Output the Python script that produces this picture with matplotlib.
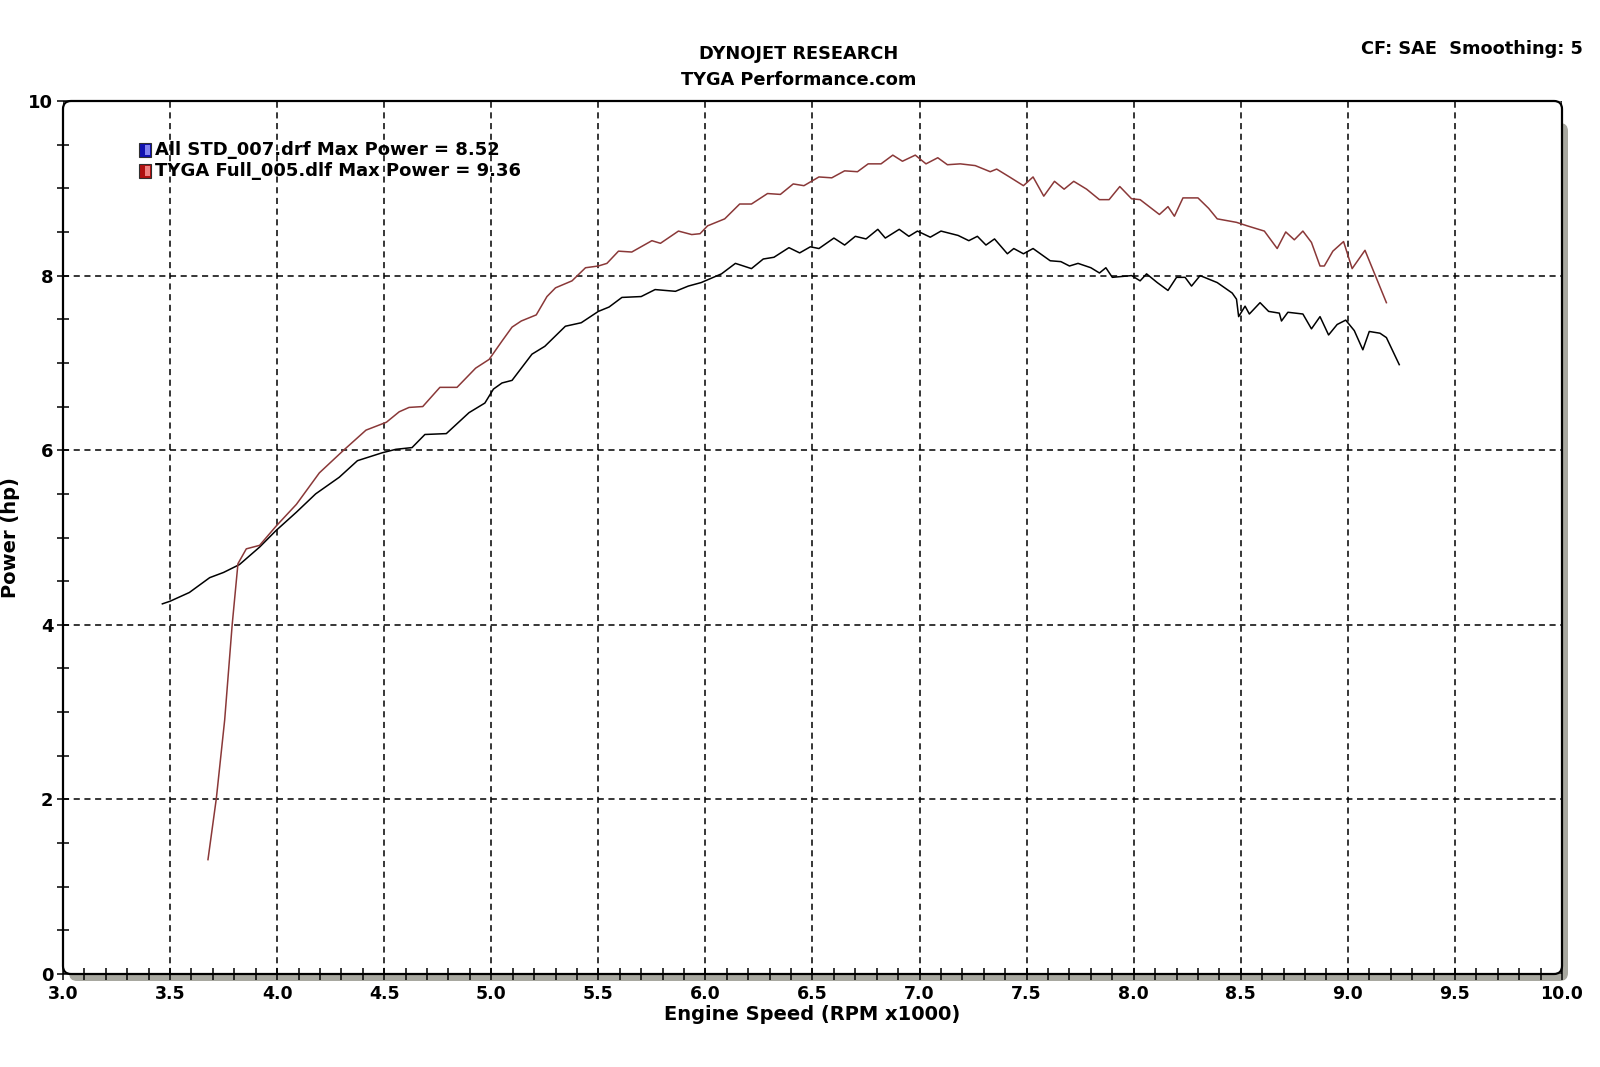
import numpy as np
import matplotlib
matplotlib.use("Agg")
import matplotlib.pyplot as plt
from matplotlib.patches import FancyBboxPatch, Rectangle

# dyno run, stock (black)
std_rpm = [3.464, 3.50, 3.59, 3.685, 3.75, 3.824, 3.918, 3.995, 4.09, 4.18, 4.29, 4.375,
           4.49, 4.554, 4.63, 4.69, 4.79, 4.896, 4.97, 5.01, 5.05, 5.097, 5.19, 5.25,
           5.346, 5.42, 5.50, 5.55, 5.61, 5.70, 5.765, 5.86, 5.92, 5.98, 6.075, 6.14,
           6.215, 6.27, 6.32, 6.39, 6.44, 6.49, 6.53, 6.60, 6.65, 6.70, 6.75, 6.805,
           6.84, 6.905, 6.95, 6.99, 7.05, 7.10, 7.18, 7.23, 7.27, 7.31, 7.35, 7.41,
           7.44, 7.485, 7.53, 7.61, 7.66, 7.70, 7.74, 7.80, 7.84, 7.87, 7.90, 7.99,
           8.03, 8.06, 8.11, 8.16, 8.20, 8.24, 8.27, 8.31, 8.39, 8.46, 8.48, 8.49,
           8.52, 8.54, 8.59, 8.63, 8.68, 8.69, 8.72, 8.79, 8.83, 8.87, 8.91, 8.95,
           8.99, 9.03, 9.07, 9.10, 9.15, 9.18, 9.24]
std_hp = [4.24, 4.27, 4.37, 4.54, 4.60, 4.69, 4.89, 5.08, 5.29, 5.50, 5.69, 5.88,
          5.97, 6.01, 6.03, 6.18, 6.19, 6.43, 6.54, 6.70, 6.77, 6.80, 7.10, 7.19,
          7.42, 7.46, 7.59, 7.64, 7.75, 7.76, 7.84, 7.82, 7.88, 7.92, 8.02, 8.14,
          8.08, 8.19, 8.21, 8.32, 8.26, 8.33, 8.31, 8.43, 8.35, 8.45, 8.42, 8.53,
          8.43, 8.53, 8.45, 8.51, 8.44, 8.51, 8.46, 8.40, 8.45, 8.35, 8.42, 8.25,
          8.31, 8.25, 8.31, 8.17, 8.16, 8.11, 8.14, 8.09, 8.03, 8.09, 7.98, 8.00,
          7.94, 8.02, 7.92, 7.83, 7.98, 7.98, 7.88, 8.00, 7.92, 7.80, 7.73, 7.53,
          7.65, 7.56, 7.69, 7.59, 7.57, 7.48, 7.58, 7.56, 7.39, 7.53, 7.32, 7.44,
          7.49, 7.37, 7.15, 7.36, 7.34, 7.29, 6.98]

# TYGA full exhaust (red)
tyga_rpm = [3.677, 3.716, 3.755, 3.79, 3.817, 3.856, 3.918, 3.995, 4.09, 4.197, 4.306,
            4.415, 4.51, 4.57, 4.616, 4.68, 4.76, 4.84, 4.927, 4.99, 5.05, 5.097, 5.14,
            5.21, 5.26, 5.30, 5.377, 5.44, 5.50, 5.54, 5.594, 5.656, 5.75, 5.79, 5.874,
            5.936, 5.975, 6.01, 6.09, 6.16, 6.215, 6.29, 6.35, 6.41, 6.46, 6.53, 6.59,
            6.65, 6.71, 6.76, 6.82, 6.875, 6.92, 6.98, 7.03, 7.085, 7.13, 7.19, 7.26,
            7.33, 7.36, 7.42, 7.485, 7.53, 7.58, 7.63, 7.675, 7.72, 7.78, 7.84, 7.885,
            7.935, 7.99, 8.03, 8.12, 8.16, 8.19, 8.23, 8.30, 8.35, 8.39, 8.48, 8.53,
            8.61, 8.67, 8.71, 8.75, 8.79, 8.83, 8.87, 8.89, 8.93, 8.98, 9.02, 9.08,
            9.12, 9.18]
tyga_hp = [1.31, 2.01, 2.91, 4.00, 4.70, 4.87, 4.91, 5.13, 5.38, 5.74, 5.99,
           6.23, 6.32, 6.44, 6.49, 6.50, 6.72, 6.72, 6.94, 7.04, 7.25, 7.41, 7.48,
           7.55, 7.76, 7.86, 7.94, 8.09, 8.11, 8.14, 8.28, 8.27, 8.40, 8.37, 8.51,
           8.47, 8.48, 8.57, 8.65, 8.82, 8.82, 8.94, 8.93, 9.05, 9.03, 9.13, 9.12,
           9.20, 9.19, 9.28, 9.28, 9.38, 9.31, 9.38, 9.28, 9.35, 9.27, 9.28, 9.26,
           9.19, 9.22, 9.13, 9.03, 9.13, 8.91, 9.08, 8.99, 9.08, 8.99, 8.87, 8.87,
           9.02, 8.88, 8.87, 8.70, 8.79, 8.68, 8.89, 8.89, 8.77, 8.65, 8.61, 8.57,
           8.51, 8.31, 8.50, 8.41, 8.51, 8.38, 8.11, 8.11, 8.28, 8.39, 8.08, 8.29,
           8.05, 7.69]

legend_txt = ["All STD_007.drf Max Power = 8.52", "TYGA Full_005.dlf Max Power = 9.36"]
xticks = [3.0, 3.5, 4.0, 4.5, 5.0, 5.5, 6.0, 6.5, 7.0, 7.5, 8.0, 8.5, 9.0, 9.5, 10.0]
yticks = [0, 2, 4, 6, 8, 10]

W, H = 16.0, 10.67
fig = plt.figure(figsize=(W, H), dpi=100)
L, R, B, T = 0.63, 15.62, 0.93, 9.66   # axes box in inches
ax = fig.add_axes([L / W, B / H, (R - L) / W, (T - B) / H])
ax.patch.set_visible(False)
for s in ax.spines.values():
    s.set_visible(False)

# frame with rounded corners + grey drop shadow
shadow = FancyBboxPatch((L + 0.06, B - 0.07), R - L, T - B - 0.15,
                        boxstyle="round,pad=0,rounding_size=0.08",
                        transform=fig.dpi_scale_trans, fc="#a8a8a0", ec="none", zorder=-2)
frame = FancyBboxPatch((L, B), R - L, T - B, boxstyle="round,pad=0,rounding_size=0.08",
                       transform=fig.dpi_scale_trans, fc="white", ec="black", lw=1.6, zorder=-1)
fig.patches.extend([shadow, frame])

ax.plot(std_rpm, std_hp, color="black", lw=1.1, zorder=3)
ax.plot(tyga_rpm, tyga_hp, color="#8a3838", lw=1.1, zorder=3)

ax.set_xlim(3, 10)
ax.set_ylim(0, 10)
ax.set_xticks(xticks)
ax.set_xticks(np.arange(3.0, 10.01, 0.1), minor=True)
ax.set_xticklabels(["%.1f" % v for v in xticks])
ax.set_yticks(yticks)
ax.set_yticks(np.arange(0, 10.01, 0.5), minor=True)
ax.tick_params(axis="x", which="both", direction="inout", length=8, width=1.1, pad=4,
               labelsize=12.5)
ax.tick_params(axis="y", which="both", direction="inout", length=8, width=1.1, pad=3,
               labelsize=13)
for lab in ax.get_xticklabels() + ax.get_yticklabels():
    lab.set_fontweight("bold")
ax.grid(True, which="major", color="black", ls=(0, (4, 3)), lw=1.1)

ax.set_xlabel("Engine Speed (RPM x1000)", fontsize=14, fontweight="bold", labelpad=1)
ax.set_ylabel("Power (hp)", fontsize=14, fontweight="bold", labelpad=6)

# legend
cols = [("#1010b0", "#8080f0"), ("#b01010", "#f08080")]
for i, (txt, (c1, c2)) in enumerate(zip(legend_txt, cols)):
    y = 0.944 - i * 0.024
    ax.add_patch(Rectangle((0.0505, y - 0.008), 0.0085, 0.016, transform=ax.transAxes,
                           fc=c1, ec="#303030", lw=0.8, zorder=4))
    ax.add_patch(Rectangle((0.0545, y - 0.006), 0.0035, 0.012, transform=ax.transAxes,
                           fc=c2, ec="none", zorder=5))
    ax.text(0.0615, y, txt, transform=ax.transAxes, fontsize=13, fontweight="bold",
            va="center", ha="left", zorder=5)

fig.text(799 / 1600, 1 - 54 / 1067, "DYNOJET RESEARCH", ha="center", va="center",
         fontsize=12.8, fontweight="bold")
fig.text(799 / 1600, 1 - 80 / 1067, "TYGA Performance.com", ha="center", va="center",
         fontsize=12.8, fontweight="bold")
fig.text(1583 / 1600, 1 - 49 / 1067, "CF: SAE  Smoothing: 5", ha="right", va="center",
         fontsize=12.8, fontweight="bold")

fig.savefig("out.png", dpi=100, facecolor="white")
